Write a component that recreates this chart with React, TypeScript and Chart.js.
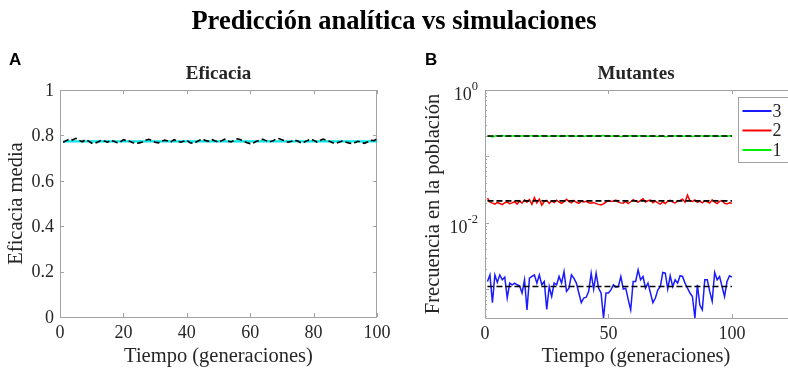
import { useEffect, useRef } from "react";
import { Chart, registerables } from "chart.js";

Chart.register(...registerables);

// ---- data -------------------------------------------------------------
const GENERATIONS: number[] = Array.from({ length: 100 }, (_, i) => i + 1);

// Panel A: mean efficacy
const EFFICACY_PREDICTED = 0.774;
const EFFICACY_SIM: number[] = [
  0.770, 0.777, 0.784, 0.780, 0.787, 0.779, 0.772, 0.781, 0.775, 0.766,
  0.765, 0.771, 0.779, 0.775, 0.770, 0.778, 0.774, 0.768, 0.771, 0.781,
  0.777, 0.774, 0.768, 0.764, 0.767, 0.771, 0.779, 0.783, 0.777, 0.770,
  0.767, 0.774, 0.779, 0.775, 0.771, 0.781, 0.775, 0.770, 0.774, 0.778,
  0.768, 0.765, 0.771, 0.779, 0.784, 0.777, 0.774, 0.781, 0.775, 0.770,
  0.777, 0.783, 0.775, 0.771, 0.779, 0.785, 0.781, 0.774, 0.768, 0.764,
  0.767, 0.774, 0.779, 0.783, 0.777, 0.771, 0.775, 0.783, 0.786, 0.781,
  0.775, 0.770, 0.774, 0.779, 0.775, 0.767, 0.770, 0.777, 0.783, 0.779,
  0.771, 0.777, 0.784, 0.779, 0.774, 0.768, 0.765, 0.770, 0.775, 0.771,
  0.767, 0.764, 0.768, 0.774, 0.770, 0.765, 0.771, 0.779, 0.777, 0.785,
];
const A_Y_TICKS = [0, 0.2, 0.4, 0.6, 0.8, 1];
const A_Y_LABELS = ["0", "0.2", "0.4", "0.6", "0.8", "1"];
const A_X_TICKS = [0, 20, 40, 60, 80, 100];

// Panel B: mutant frequencies
const MUT1_PREDICTED = 0.203;
const MUT2_PREDICTED = 0.0214;
const MUT3_PREDICTED = 0.0011;
const MUT1_SIM: number[] = [
  0.201, 0.202, 0.196, 0.203, 0.205, 0.204, 0.206, 0.203, 0.202, 0.204,
  0.203, 0.205, 0.203, 0.202, 0.204, 0.203, 0.201, 0.203, 0.205, 0.204,
  0.203, 0.202, 0.204, 0.205, 0.203, 0.202, 0.204, 0.203, 0.205, 0.203,
  0.202, 0.204, 0.203, 0.205, 0.204, 0.203, 0.202, 0.204, 0.203, 0.201,
  0.203, 0.205, 0.204, 0.203, 0.202, 0.203, 0.205, 0.206, 0.204, 0.203,
  0.202, 0.204, 0.203, 0.201, 0.200, 0.202, 0.204, 0.203, 0.205, 0.203,
  0.202, 0.203, 0.205, 0.204, 0.200, 0.203, 0.201, 0.203, 0.202, 0.199,
  0.201, 0.203, 0.198, 0.200, 0.202, 0.204, 0.203, 0.205, 0.202, 0.201,
  0.203, 0.204, 0.202, 0.200, 0.203, 0.205, 0.204, 0.203, 0.201, 0.202,
  0.204, 0.203, 0.205, 0.203, 0.202, 0.204, 0.203, 0.202, 0.204, 0.203,
];
const MUT2_SIM: number[] = [
  0.0235, 0.0205, 0.0198, 0.0192, 0.0203, 0.0196, 0.0188, 0.0201, 0.0206, 0.0195,
  0.0200, 0.0208, 0.0192, 0.0214, 0.0198, 0.0222, 0.0205, 0.0225, 0.0190, 0.0240,
  0.0200, 0.0228, 0.0185, 0.0210, 0.0218, 0.0197, 0.0214, 0.0202, 0.0220, 0.0206,
  0.0196, 0.0208, 0.0226, 0.0209, 0.0200, 0.0218, 0.0204, 0.0196, 0.0212, 0.0206,
  0.0211, 0.0201, 0.0198, 0.0203, 0.0195, 0.0190, 0.0186, 0.0194, 0.0205, 0.0216,
  0.0210, 0.0214, 0.0220, 0.0205, 0.0200, 0.0198, 0.0210, 0.0195, 0.0208, 0.0224,
  0.0212, 0.0205, 0.0218, 0.0230, 0.0206, 0.0215, 0.0221, 0.0201, 0.0212, 0.0200,
  0.0191, 0.0206, 0.0196, 0.0212, 0.0219, 0.0205, 0.0200, 0.0212, 0.0218, 0.0228,
  0.0205, 0.0262, 0.0215, 0.0210, 0.0222, 0.0203, 0.0212, 0.0200, 0.0214, 0.0207,
  0.0198, 0.0222, 0.0205, 0.0195, 0.0211, 0.0217, 0.0197, 0.0192, 0.0200, 0.0198,
];
const MUT3_SIM: number[] = [
  0.00131, 0.00165, 0.00063, 0.00165, 0.00127, 0.00165, 0.00139, 0.00152, 0.00074, 0.00124,
  0.00117, 0.00124, 0.00117, 0.00113, 0.00088, 0.00139, 0.00049, 0.00147, 0.00156, 0.00165,
  0.00124, 0.00165, 0.00117, 0.00131, 0.00050, 0.00110, 0.00078, 0.00124, 0.00117, 0.00156,
  0.00124, 0.00185, 0.00093, 0.00104, 0.00165, 0.00147, 0.00124, 0.00088, 0.00063, 0.00074,
  0.00076, 0.00093, 0.00175, 0.00101, 0.00175, 0.00104, 0.00088, 0.00037, 0.00088, 0.00088,
  0.00098, 0.00117, 0.00108, 0.00110, 0.00156, 0.00101, 0.00104, 0.00070, 0.00049, 0.00131,
  0.00131, 0.00196, 0.00139, 0.00156, 0.00104, 0.00124, 0.00088, 0.00063, 0.00074, 0.00098,
  0.00110, 0.00179, 0.00175, 0.00101, 0.00160, 0.00110, 0.00139, 0.00124, 0.00160, 0.00156,
  0.00124, 0.00104, 0.00088, 0.00078, 0.00037, 0.00117, 0.00058, 0.00049, 0.00139, 0.00139,
  0.00093, 0.00066, 0.00179, 0.00139, 0.00156, 0.00110, 0.00078, 0.00131, 0.00160, 0.00152,
];
const B_Y_MIN = 3.7e-4;
const B_Y_MAX = 1;
const B_Y_MAJOR = [1, 0.1, 0.01, 0.001];
const B_Y_LABELED = [1, 0.01];
const B_Y_EXPONENTS = ["0", "-2"];
const B_X_TICKS = [0, 50, 100, 150];
const B_X_MAX = 122.7;
const LEGEND_LABELS = ["3", "2", "1"];

// ---- styling ------------------------------------------------------------
const SERIF = '"Liberation Serif", "Times New Roman", serif';
const TEXT = "#262626";
const AXIS = "#a3a3a3";
const BLUE = "#1a1aff";
const RED = "#ff0000";
const GREEN = "#00ee00";
const CYAN = "#00e5e5";

const W = 394;
const H = 373;

const series = (vals: number[]) => GENERATIONS.map((g, i) => ({ x: g, y: vals[i] }));
const flat = (v: number) => [
  { x: GENERATIONS[0], y: v },
  { x: GENERATIONS[GENERATIONS.length - 1], y: v },
];

type AxesCfg = {
  title: string;
  xLabel: string;
  yLabel: string;
  yLabelX: number;
  xTicks: number[];
  drawRight: boolean;
  yAxis: (ctx: CanvasRenderingContext2D, chart: Chart, tick: (y: number, len: number) => void) => void;
  legend?: boolean;
};

function text(
  ctx: CanvasRenderingContext2D,
  s: string,
  x: number,
  y: number,
  font: string,
  align: CanvasTextAlign,
  baseline: CanvasTextBaseline
) {
  ctx.font = font;
  ctx.textAlign = align;
  ctx.textBaseline = baseline;
  ctx.fillStyle = TEXT;
  ctx.fillText(s, x, y);
}

function makeAxesPlugin(cfg: AxesCfg) {
  return {
    id: "figureAxes",
    beforeDatasetsDraw(chart: Chart) {
      const { ctx, chartArea: a } = chart;
      ctx.save();
      ctx.strokeStyle = AXIS;
      ctx.lineWidth = 1;
      ctx.beginPath();
      const l = Math.round(a.left) + 0.5;
      const t = Math.round(a.top) + 0.5;
      const b = Math.round(a.bottom) + 0.5;
      const r = Math.round(a.right) - 0.5;
      ctx.moveTo(cfg.drawRight ? r : chart.width + 5, t);
      ctx.lineTo(l, t);
      ctx.lineTo(l, b);
      ctx.lineTo(cfg.drawRight ? r : chart.width + 5, b);
      if (cfg.drawRight) {
        ctx.moveTo(r, t);
        ctx.lineTo(r, b);
      }
      ctx.stroke();
      ctx.restore();
    },
    afterDraw(chart: Chart) {
      const { ctx, chartArea: a } = chart;
      const xs = chart.scales.x;
      ctx.save();
      ctx.strokeStyle = AXIS;
      ctx.lineWidth = 1;
      // x ticks, inward on bottom and top
      ctx.beginPath();
      for (const v of cfg.xTicks) {
        const px = Math.round(xs.getPixelForValue(v)) + 0.5;
        if (px > chart.width) continue;
        ctx.moveTo(px, a.bottom);
        ctx.lineTo(px, a.bottom - 4);
        ctx.moveTo(px, a.top);
        ctx.lineTo(px, a.top + 4);
      }
      ctx.stroke();
      for (const v of cfg.xTicks) {
        const px = xs.getPixelForValue(v);
        if (px > chart.width) continue;
        text(ctx, String(v), px, a.bottom + 16, `18px ${SERIF}`, "center", "middle");
      }
      // y ticks
      const tick = (y: number, len: number) => {
        const py = Math.round(y) + 0.5;
        ctx.beginPath();
        ctx.moveTo(a.left, py);
        ctx.lineTo(a.left + len, py);
        if (cfg.drawRight) {
          ctx.moveTo(a.right, py);
          ctx.lineTo(a.right - len, py);
        }
        ctx.stroke();
      };
      cfg.yAxis(ctx, chart, tick);

      // titles and axis labels
      const centerX = cfg.drawRight ? (a.left + a.right) / 2 : a.left + 151;
      text(ctx, cfg.title, centerX, 74, `bold 19px ${SERIF}`, "center", "middle");
      text(ctx, cfg.xLabel, centerX, 357, `20.5px ${SERIF}`, "center", "middle");
      ctx.save();
      ctx.translate(cfg.yLabelX, (a.top + a.bottom) / 2);
      ctx.rotate(-Math.PI / 2);
      text(ctx, cfg.yLabel, 0, 0, `20.5px ${SERIF}`, "center", "middle");
      ctx.restore();

      if (cfg.legend) {
        const lx = 344.5;
        const ly = 97.5;
        ctx.fillStyle = "#ffffff";
        ctx.fillRect(lx, ly, 60, 65);
        ctx.strokeStyle = AXIS;
        ctx.strokeRect(lx, ly, 60, 65);
        const colors = [BLUE, RED, GREEN];
        LEGEND_LABELS.forEach((lab, i) => {
          const yy = ly + 13.5 + i * 19.5;
          ctx.strokeStyle = colors[i];
          ctx.lineWidth = 2;
          ctx.beginPath();
          ctx.moveTo(lx + 4, yy);
          ctx.lineTo(lx + 33, yy);
          ctx.stroke();
          text(ctx, lab, lx + 34, yy + 1, `18px ${SERIF}`, "left", "middle");
        });
      }
      ctx.restore();
    },
  };
}

function yLinear(ctx: CanvasRenderingContext2D, chart: Chart, tick: (y: number, len: number) => void) {
  const ys = chart.scales.y;
  const a = chart.chartArea;
  A_Y_TICKS.forEach((v, i) => {
    const py = ys.getPixelForValue(v);
    tick(py, 4);
    text(ctx, A_Y_LABELS[i], a.left - 6, py + 1, `18px ${SERIF}`, "right", "middle");
  });
}

function yLog(ctx: CanvasRenderingContext2D, chart: Chart, tick: (y: number, len: number) => void) {
  const ys = chart.scales.y;
  const a = chart.chartArea;
  for (const major of B_Y_MAJOR) {
    tick(ys.getPixelForValue(major), 4);
    for (let m = 2; m <= 9; m++) {
      const v = (major / 10) * m;
      if (v < B_Y_MIN || v > B_Y_MAX) continue;
      tick(ys.getPixelForValue(v), 2);
    }
  }
  B_Y_LABELED.forEach((v, i) => {
    const py = ys.getPixelForValue(v);
    const right = a.left - 7;
    ctx.font = `12.5px ${SERIF}`;
    const supW = ctx.measureText(B_Y_EXPONENTS[i]).width;
    text(ctx, "10", right - supW, py + 5, `18px ${SERIF}`, "right", "middle");
    text(ctx, B_Y_EXPONENTS[i], right - supW, py - 3, `12.5px ${SERIF}`, "left", "middle");
  });
}

function PanelA() {
  const ref = useRef<HTMLCanvasElement>(null);
  useEffect(() => {
    const chart = new Chart(ref.current!, {
      type: "line",
      data: {
        datasets: [
          {
            data: series(EFFICACY_SIM),
            borderColor: "#000000",
            borderWidth: 1.6,
            borderDash: [6, 3],
            pointRadius: 0,
          },
          {
            data: flat(EFFICACY_PREDICTED),
            borderColor: CYAN,
            borderWidth: 2.2,
            pointRadius: 0,
          },
        ],
      },
      options: {
        animation: false,
        responsive: false,
        layout: { padding: { left: 60, right: 17, top: 90, bottom: 56 } },
        plugins: { legend: { display: false }, tooltip: { enabled: false } },
        scales: {
          x: { type: "linear", min: 0, max: 100, display: false },
          y: { type: "linear", min: 0, max: 1, display: false },
        },
      },
      plugins: [
        makeAxesPlugin({
          title: "Eficacia",
          xLabel: "Tiempo (generaciones)",
          yLabel: "Eficacia media",
          yLabelX: 17,
          xTicks: A_X_TICKS,
          drawRight: true,
          yAxis: yLinear,
        }),
      ],
    });
    return () => chart.destroy();
  }, []);
  return <canvas ref={ref} width={W} height={H} style={{ position: "absolute", left: 0, top: 0, width: W, height: H }} />;
}

function PanelB() {
  const ref = useRef<HTMLCanvasElement>(null);
  useEffect(() => {
    const dashed = (v: number) => ({
      data: flat(v),
      borderColor: "#000000",
      borderWidth: 1.6,
      borderDash: [6, 3],
      pointRadius: 0,
    });
    const solid = (vals: number[], color: string) => ({
      data: series(vals),
      borderColor: color,
      borderWidth: 1.5,
      pointRadius: 0,
    });
    const chart = new Chart(ref.current!, {
      type: "line",
      data: {
        datasets: [
          dashed(MUT1_PREDICTED),
          dashed(MUT2_PREDICTED),
          dashed(MUT3_PREDICTED),
          solid(MUT1_SIM, GREEN),
          solid(MUT2_SIM, RED),
          solid(MUT3_SIM, BLUE),
        ],
      },
      options: {
        animation: false,
        responsive: false,
        layout: { padding: { left: 91, right: 0, top: 90, bottom: 55 } },
        plugins: { legend: { display: false }, tooltip: { enabled: false } },
        scales: {
          x: { type: "linear", min: 0, max: B_X_MAX, display: false },
          y: { type: "logarithmic", min: B_Y_MIN, max: B_Y_MAX, display: false },
        },
      },
      plugins: [
        makeAxesPlugin({
          title: "Mutantes",
          xLabel: "Tiempo (generaciones)",
          yLabel: "Frecuencia en la población",
          yLabelX: 40,
          xTicks: B_X_TICKS,
          drawRight: false,
          yAxis: yLog,
          legend: true,
        }),
      ],
    });
    return () => chart.destroy();
  }, []);
  return <canvas ref={ref} width={W} height={H} style={{ position: "absolute", left: W, top: 0, width: W, height: H }} />;
}

export default function App() {
  return (
    <div
      style={{
        position: "absolute",
        left: 0,
        top: 0,
        width: 788,
        height: H,
        background: "#ffffff",
        overflow: "hidden",
      }}
    >
      <PanelA />
      <PanelB />
      <div
        style={{
          position: "absolute",
          left: 0,
          top: 3,
          width: 788,
          textAlign: "center",
          font: `bold 26.5px ${SERIF}`,
          color: "#000000",
          lineHeight: "34px",
        }}
      >
        Predicción analítica vs simulaciones
      </div>
      <div style={{ position: "absolute", left: 9, top: 50, font: 'bold 17px "Liberation Sans", Arial, sans-serif', color: "#000" }}>A</div>
      <div style={{ position: "absolute", left: 425, top: 50, font: 'bold 17px "Liberation Sans", Arial, sans-serif', color: "#000" }}>B</div>
    </div>
  );
}
